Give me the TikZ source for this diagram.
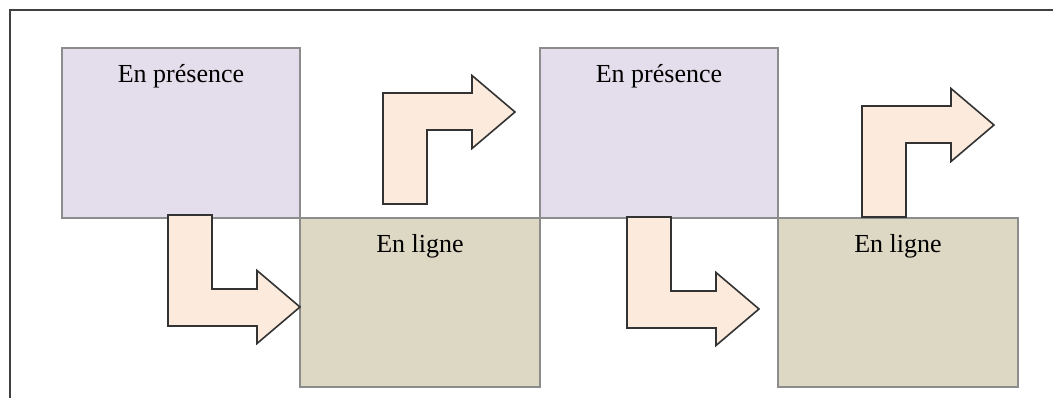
\documentclass[tikz,border=0pt]{standalone}
\usepackage{fontspec}
\setmainfont{Liberation Serif}
\usetikzlibrary{calc}

\definecolor{presfill}{RGB}{228,222,236}
\definecolor{lignefill}{RGB}{221,216,195}
\definecolor{flechefill}{RGB}{252,234,220}

\tikzset{
    presence/.style={draw=black!45, line width=1.2pt, fill=presfill,
        minimum width=238pt, minimum height=170pt, inner sep=0pt},
    ligne/.style={draw=black!45, line width=1.2pt, fill=lignefill,
        minimum width=240pt, minimum height=169pt, inner sep=0pt},
    titre/.style={anchor=base, font=\fontsize{26}{31}\selectfont},
    fleche/.style={draw=black!80, line width=1.6pt, fill=flechefill, line join=miter}
}

\begin{document}
\begin{tikzpicture}[x=1pt, y=-1pt]
    \useasboundingbox (0,0) rectangle (1053,398);

    % cadre (coupe a droite et en bas)
    \draw[black!75, line width=1.8pt] (1053,10) -- (10,10) -- (10,398);

    % les quatre blocs
    \node[presence] (P1) at (181,133) {};
    \node[ligne] (L1) at (420,302.5) {};
    \node[presence] (P2) at (659,133) {};
    \node[ligne] (L2) at (898,302.5) {};

    \foreach \b/\t in {P1/En présence, L1/En ligne, P2/En présence, L2/En ligne} {
        \node[titre] (T\b) at ($(\b.north)+(0,35)$) {\t};
    }

    % fleches coudees : coin haut gauche de la tige / sens (1 bas, -1 haut)
    \foreach \x/\y/\s in {168/215/1, 627/217/1, 383/204/-1, 862/217/-1} {
        \begin{scope}[shift={(\x,\y)}, yscale=\s]
            \draw[fleche] (0,0) -- (44,0) -- (44,74) -- (89,74) -- (89,55.5)
                -- (132,92) -- (89,128.5) -- (89,111) -- (0,111) -- cycle;
        \end{scope}
    }
\end{tikzpicture}
\end{document}
